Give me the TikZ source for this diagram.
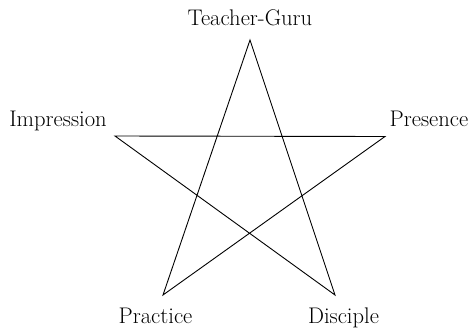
\documentclass[tikz,border=0pt]{standalone}
\begin{document}
\begin{tikzpicture}[x=1pt,y=-1pt,
  lbl/.style={anchor=base,inner sep=0pt,font=\fontsize{22.6}{26}\selectfont},
  edge/.style={line width=0.9pt,black,line join=miter}]
\useasboundingbox (0,0) rectangle (471,330);
\coordinate (T) at (250,40);
\coordinate (L) at (115,136);
\coordinate (R) at (385,136.5);
\coordinate (BL) at (163,295);
\coordinate (BR) at (335,295);
\draw[edge] (T) -- (BL) -- (R) -- (L) -- (BR) -- cycle;
\node[lbl] (tg) at (250,25) {Teacher-Guru};
\node[lbl] (im) at (58,126) {Impression};
\node[lbl] (pr) at (429,126) {Presence};
\node[lbl] (pc) at (155.5,323) {Practice};
\node[lbl] (di) at (343.5,323) {Disciple};
\end{tikzpicture}
\end{document}
